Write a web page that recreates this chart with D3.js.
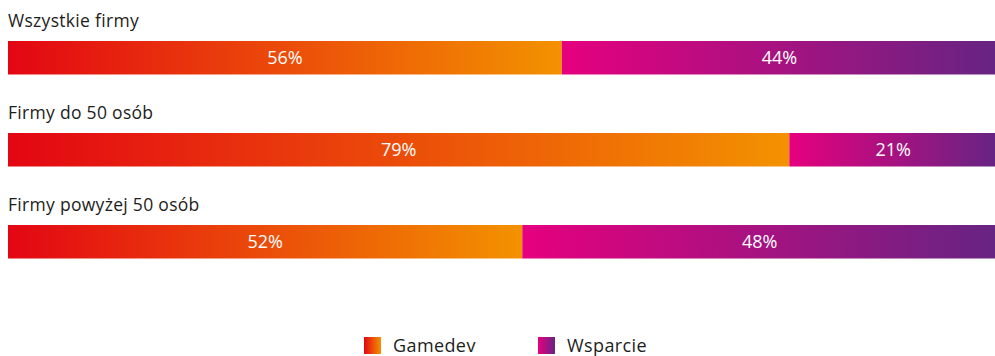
<!DOCTYPE html>
<html>
<head>
<meta charset="utf-8">
<script src="https://cdn.jsdelivr.net/npm/d3@7"></script>
<style>
  html, body { margin: 0; padding: 0; background: #fff; overflow: hidden; }
  svg { display: block; font-family: "Open Sans", "Noto Sans", sans-serif; }
</style>
</head>
<body>
<svg id="chart" width="995" height="356"></svg>
<script>
// Company groups and the share of each type of work
const categories = ["Wszystkie firmy", "Firmy do 50 osób", "Firmy powyżej 50 osób"];
const gamedev = [56, 79, 52];
const wsparcie = [44, 21, 48];
const seriesNames = ["Gamedev", "Wsparcie"];

const svg = d3.select("#chart");

// Each segment carries its own left-to-right gradient
const defs = svg.append("defs");
const gradients = [
  { id: "grad-gamedev", from: "#e30613", to: "#f39200" },
  { id: "grad-wsparcie", from: "#e6007e", to: "#662483" }
];
gradients.forEach(g => {
  const lg = defs.append("linearGradient")
    .attr("id", g.id)
    .attr("x1", "0%").attr("x2", "100%")
    .attr("y1", "0%").attr("y2", "0%");
  lg.append("stop").attr("offset", "0%").attr("stop-color", g.from);
  lg.append("stop").attr("offset", "100%").attr("stop-color", g.to);
});

const x = d3.scaleLinear().domain([0, 100]).range([8, 997]);
const y = d3.scaleBand().domain(categories).range([41, 258.5]).paddingInner(0.636).paddingOuter(0);

const rows = categories.map((c, i) => ({
  cat: c,
  parts: [
    { key: seriesNames[0], start: 0, value: gamedev[i], fill: "url(#grad-gamedev)" },
    { key: seriesNames[1], start: gamedev[i], value: wsparcie[i], fill: "url(#grad-wsparcie)" }
  ]
}));

const row = svg.selectAll("g.row")
  .data(rows)
  .join("g")
  .attr("class", "row");

// Row titles above each bar
row.append("text")
  .attr("x", 8)
  .attr("y", d => y(d.cat) - 14)
  .attr("font-size", 17.5)
  .attr("letter-spacing", 0.3)
  .attr("fill", "#1d1d1b")
  .text(d => d.cat);

// Stacked segments
row.selectAll("rect")
  .data(d => d.parts.map(p => ({ ...p, cat: d.cat })))
  .join("rect")
  .attr("x", d => x(d.start))
  .attr("y", d => y(d.cat))
  .attr("width", d => x(d.start + d.value) - x(d.start))
  .attr("height", y.bandwidth())
  .attr("fill", d => d.fill);

// Percentage labels centred in each segment
row.selectAll("text.val")
  .data(d => d.parts.map(p => ({ ...p, cat: d.cat })))
  .join("text")
  .attr("class", "val")
  .attr("x", d => (x(d.start) + x(d.start + d.value)) / 2)
  .attr("y", d => y(d.cat) + y.bandwidth() / 2 + 6.5)
  .attr("text-anchor", "middle")
  .attr("font-size", 18)
  .attr("fill", "#ffffff")
  .text(d => d.value + "%");

// Legend
const legend = svg.append("g")
  .selectAll("g")
  .data(seriesNames)
  .join("g")
  .attr("transform", (d, i) => `translate(${[364, 538][i]},337)`);

legend.append("rect")
  .attr("width", 17)
  .attr("height", 17)
  .attr("fill", (d, i) => `url(#${gradients[i].id})`);

legend.append("text")
  .attr("x", 29)
  .attr("y", 14.5)
  .attr("font-size", 18)
  .attr("letter-spacing", 0.4)
  .attr("fill", "#1d1d1b")
  .text(d => d);
</script>
</body>
</html>
